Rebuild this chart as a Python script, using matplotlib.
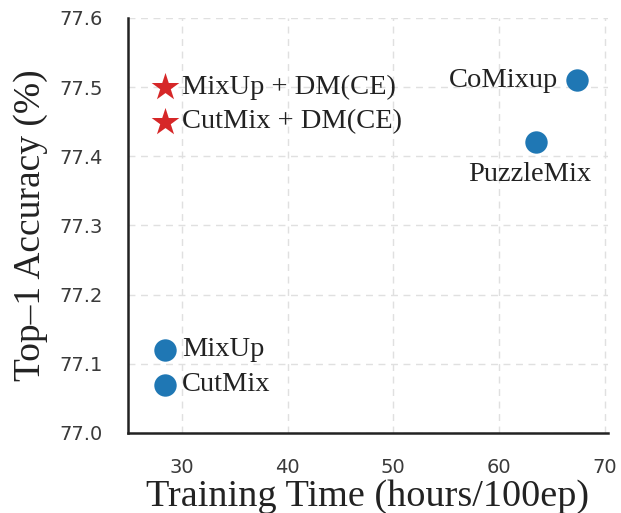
import matplotlib
matplotlib.use("Agg")
import matplotlib.pyplot as plt

# Training cost vs. accuracy of mixing methods
methods = ["MixUp", "CutMix", "CoMixup", "PuzzleMix"]
method_hours = [28.4, 28.4, 67.4, 63.5]
method_acc = [77.12, 77.07, 77.51, 77.42]

dm_methods = ["MixUp + DM(CE)", "CutMix + DM(CE)"]
dm_hours = [28.4, 28.4]
dm_acc = [77.50, 77.45]

x_ticks = [30, 40, 50, 60, 70]
y_ticks = [77.0, 77.1, 77.2, 77.3, 77.4, 77.5, 77.6]

serif = ["Liberation Serif", "DejaVu Serif"]

fig = plt.figure(figsize=(6.21, 5.13), dpi=100)
ax = fig.add_axes([0.206, 0.156, 0.773, 0.809])

ax.grid(True, color="#e0e0e0", linestyle=(0, (5, 4)), linewidth=1.0)
ax.set_axisbelow(True)

ax.scatter(method_hours, method_acc, s=260, color="#1f77b4", zorder=3, linewidths=0)
ax.scatter(dm_hours, dm_acc, s=440, marker="*", color="#d62728", zorder=3, linewidths=0)

label_kw = dict(fontsize=20.5, family=serif, color="#222222", va="center")
offsets = {
    "MixUp": (1.6, 0.0, "left"),
    "CutMix": (1.6, 0.0, "left"),
    "CoMixup": (-1.8, 0.0, "right"),
    "PuzzleMix": (-0.6, -0.046, "center"),
}
for name, xv, yv in zip(methods, method_hours, method_acc):
    dx, dy, ha = offsets[name]
    ax.text(xv + dx, yv + dy, name, ha=ha, **label_kw)
for name, xv, yv in zip(dm_methods, dm_hours, dm_acc):
    ax.text(xv + 1.6, yv, name, ha="left", **label_kw)

ax.set_xlim(24.9, 70.3)
ax.set_ylim(77.0, 77.6)
ax.set_xticks(x_ticks)
ax.set_yticks(y_ticks)
ax.set_yticklabels([f"{v:.1f}" for v in y_ticks])
ax.tick_params(axis="both", length=0, labelsize=14, labelcolor="#3a3a3a")
ax.tick_params(axis="y", pad=18)
ax.tick_params(axis="x", pad=18)
for lbl in ax.get_xticklabels() + ax.get_yticklabels():
    lbl.set_family(["DejaVu Sans"])

for side in ("top", "right"):
    ax.spines[side].set_visible(False)
for side in ("left", "bottom"):
    ax.spines[side].set_color("#222222")
    ax.spines[side].set_linewidth(1.8)

ax.set_xlabel("Training Time (hours/100ep)", fontsize=27.5, family=serif, color="#222222", labelpad=2)
ax.set_ylabel("Top\u20131 Accuracy (%)", fontsize=27, family=serif, color="#222222", labelpad=8)

fig.savefig("out.png", dpi=100)
